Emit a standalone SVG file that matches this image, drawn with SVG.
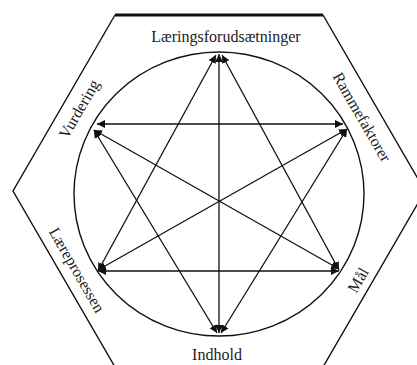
<svg xmlns="http://www.w3.org/2000/svg" width="417" height="365" viewBox="0 0 417 365">
<style>
.e{fill:none;stroke:#111;stroke-width:1.4}
.c{fill:none;stroke:#111;stroke-width:1.3;marker-start:url(#a);marker-end:url(#a)}
.t{font-family:"Liberation Serif","Times New Roman",serif;font-size:16px;fill:#222}
.r{text-anchor:middle;dominant-baseline:central}
</style>
<defs>
<marker id="a" viewBox="0 0 10 10" refX="10" refY="5" markerWidth="8" markerHeight="8" markerUnits="userSpaceOnUse" orient="auto-start-reverse">
<path d="M0,0 L10,5 L0,10 Z" fill="#111"/>
</marker>
</defs>
<g id="frame">
<polyline class="e" points="323,15 425,191 323,367 115,367 13,191 115,15"/>
<line x1="115" y1="15" x2="323" y2="15" stroke="#111" stroke-width="3"/>
<ellipse class="e" cx="219" cy="194" rx="145" ry="142"/>
</g>
<g id="connectors">
<line class="c" x1="219" y1="54" x2="219" y2="333"/>
<line class="c" x1="97" y1="124" x2="343" y2="124"/>
<line class="c" x1="98" y1="271" x2="339" y2="271"/>
<line class="c" x1="216" y1="55" x2="98" y2="271"/>
<line class="c" x1="222" y1="55" x2="339" y2="270"/>
<line class="c" x1="94" y1="130" x2="217" y2="333"/>
<line class="c" x1="347" y1="129" x2="221" y2="333"/>
<line class="c" x1="94" y1="130" x2="339" y2="269"/>
<line class="c" x1="347" y1="129" x2="98" y2="270"/>
</g>
<g id="n-top"><text class="t" x="226" y="42" text-anchor="middle">Læringsforudsætninger</text></g>
<g id="n-bottom"><text class="t" x="217" y="360" text-anchor="middle">Indhold</text></g>
<g id="n-ul"><text class="t r" transform="translate(79,109) rotate(-60)">Vurdering</text></g>
<g id="n-ur"><text class="t r" transform="translate(362,117) rotate(60)">Rammefaktorer</text></g>
<g id="n-ll"><text class="t r" transform="translate(77,270) rotate(60)">Læreprosessen</text></g>
<g id="n-lr"><text class="t r" transform="translate(358,280) rotate(-60)">Mål</text></g>
</svg>
